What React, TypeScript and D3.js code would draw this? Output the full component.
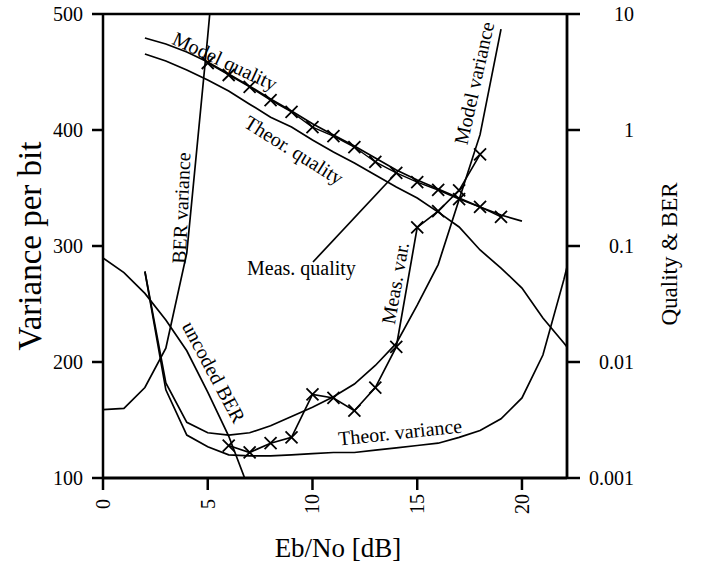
import React from 'react';
import * as d3 from 'd3';

// axis ticks
const xTicks = [0, 5, 10, 15, 20];
const varTicks = [100, 200, 300, 400, 500];
const qualTicks = [0.001, 0.01, 0.1, 1, 10];
const qualTickLabels = ['0.001', '0.01', '0.1', '1', '10'];

// right axis (quality & BER, log)
const modelQualityX = [2, 3, 4, 5, 6, 7, 8, 9, 10, 11, 12, 13, 14, 15, 16, 17, 18, 19, 20];
const modelQuality = [6.21, 5.51, 4.7, 3.86, 3.04, 2.39, 1.85, 1.46, 1.13, 0.905, 0.728, 0.574, 0.452, 0.371, 0.31, 0.259, 0.217, 0.185, 0.164];

const measQualityX = [5, 6, 7, 8, 9, 10, 11, 12, 13, 14, 15, 16, 17, 18, 19];
const measQuality = [3.78, 2.98, 2.35, 1.81, 1.43, 1.06, 0.887, 0.713, 0.53, 0.426, 0.356, 0.304, 0.254, 0.217, 0.178];

const theorQualityX = [2, 3, 4, 5, 6, 7, 8, 9, 10, 11, 12, 13, 14, 15, 16, 17, 18, 19, 20, 21, 22, 22.15];
const theorQuality = [4.52, 3.94, 3.29, 2.7, 2.17, 1.67, 1.29, 1.06, 0.82, 0.646, 0.52, 0.409, 0.323, 0.259, 0.196, 0.146, 0.0924, 0.0646, 0.0434, 0.0239, 0.0146, 0.0135];

const uncodedBerX = [0, 1, 2, 3, 4, 5, 6, 7];
const uncodedBer = [0.079, 0.059, 0.039, 0.023, 0.0125, 0.0055, 0.0023, 0.00077];

// left axis (variance per bit)
const berVarX = [0, 1, 2, 3, 4, 5, 6];
const berVar = [159, 160, 178, 212, 294, 481, 680];

const theorVarX = [2, 3, 4, 5, 6, 7, 8, 9, 10, 11, 12, 13, 14, 15, 16, 17, 18, 19, 20, 21, 22, 22.15];
const theorVar = [278, 176, 137, 127, 120, 119, 119, 120, 121, 122, 122, 124, 126, 128, 130, 135, 141, 151, 169, 206, 271, 282];

const modelVarX = [2, 3, 4, 5, 6, 7, 8, 9, 10, 11, 12, 13, 14, 15, 16, 17, 18, 19];
const modelVar = [278, 182, 148, 139, 137, 139, 145, 153, 161, 170, 181, 197, 216, 249, 284, 340, 396, 487];

const measVarX = [6, 7, 8, 9, 10, 11, 12, 13, 14, 15, 16, 17, 18];
const measVar = [128, 122, 130, 135, 172, 169, 158, 178, 213, 316, 330, 348, 379];

const W = 708;
const H = 565;
const left = 103, right = 567, top = 14, bottom = 478;
const font = '"Liberation Serif", "Times New Roman", serif';

const App = () => {
  const x = d3.scaleLinear().domain([0, 22.15]).range([left, right]);
  const yVar = d3.scaleLinear().domain([100, 500]).range([bottom, top]);
  const yQ = d3.scaleLog().domain([0.001, 10]).range([bottom, top]);

  const lineVar = (xs, ys) =>
    d3.line().x((d) => x(d[0])).y((d) => yVar(d[1]))(xs.map((v, i) => [v, ys[i]]));
  const lineQ = (xs, ys) =>
    d3.line().x((d) => x(d[0])).y((d) => yQ(d[1]))(xs.map((v, i) => [v, ys[i]]));

  const cross = 'M-6,-6L6,6M-6,6L6,-6';
  const curve = { fill: 'none', stroke: '#000', strokeWidth: 1.7 };

  // pointer from "Meas. quality" label to the measured point at 14 dB
  const mqIdx = measQualityX.indexOf(14);
  const labelX = 247, labelY = 275;

  return (
    <svg width={W} height={H} style={{ position: 'absolute', left: 0, top: 0, background: '#fff' }}
      fontFamily={font}>
      <defs>
        <clipPath id="plot">
          <rect x={left} y={top} width={right - left} height={bottom - top} />
        </clipPath>
      </defs>

      <g clipPath="url(#plot)">
        <path d={lineQ(modelQualityX, modelQuality)} {...curve} />
        <path d={lineQ(measQualityX, measQuality)} {...curve} strokeWidth={1.4} />
        <path d={lineQ(theorQualityX, theorQuality)} {...curve} />
        <path d={lineQ(uncodedBerX, uncodedBer)} {...curve} />
        <path d={lineVar(berVarX, berVar)} {...curve} />
        <path d={lineVar(theorVarX, theorVar)} {...curve} />
        <path d={lineVar(modelVarX, modelVar)} {...curve} />
        <path d={lineVar(measVarX, measVar)} {...curve} />
        {measQualityX.map((v, i) => (
          <path key={'mq' + i} d={cross} transform={`translate(${x(v)},${yQ(measQuality[i])})`}
            stroke="#000" strokeWidth={1.8} fill="none" />
        ))}
        {measVarX.map((v, i) => (
          <path key={'mv' + i} d={cross} transform={`translate(${x(v)},${yVar(measVar[i])})`}
            stroke="#000" strokeWidth={1.8} fill="none" />
        ))}
        <line x1={labelX + 66} y1={labelY - 13} x2={x(14)} y2={yQ(measQuality[mqIdx])}
          stroke="#000" strokeWidth={1.7} />
      </g>

      {/* frame */}
      <line x1={left} y1={top} x2={right} y2={top} stroke="#000" strokeWidth={2.5} />
      <line x1={left} y1={top - 1} x2={left} y2={bottom + 1} stroke="#000" strokeWidth={2.5} />
      <line x1={right} y1={top - 1} x2={right} y2={bottom + 1} stroke="#000" strokeWidth={2.8} />
      <line x1={left} y1={bottom} x2={right} y2={bottom} stroke="#000" strokeWidth={2.8} />

      {/* left axis */}
      {varTicks.map((t) => (
        <g key={'v' + t} transform={`translate(0,${yVar(t)})`}>
          <line x1={left - 11} x2={left} stroke="#000" strokeWidth={2.5} />
          <text x={83} dy="0.35em" textAnchor="end" fontSize={20}>{t}</text>
        </g>
      ))}

      {/* right axis */}
      {qualTicks.map((t, i) => (
        <g key={'q' + t} transform={`translate(0,${yQ(t)})`}>
          <line x1={right} x2={right + 13} stroke="#000" strokeWidth={2.5} />
          <text x={634} dy="0.35em" textAnchor="end" fontSize={20}>{qualTickLabels[i]}</text>
        </g>
      ))}

      {/* bottom axis */}
      {xTicks.map((t) => (
        <g key={'x' + t} transform={`translate(${x(t)},0)`}>
          <line y1={bottom} y2={bottom + 12} stroke="#000" strokeWidth={2.5} />
          <text transform={`translate(0,504) rotate(-90)`} dy="0.35em" textAnchor="middle" fontSize={20}>{t}</text>
        </g>
      ))}

      {/* axis titles */}
      <text x={338} y={557} textAnchor="middle" fontSize={27}>Eb/No [dB]</text>
      <text transform="translate(41,246) rotate(-90)" textAnchor="middle" fontSize={33}>Variance per bit</text>
      <text transform="translate(677,254) rotate(-90)" textAnchor="middle" fontSize={23}>Quality &amp; BER</text>

      {/* curve labels */}
      <text transform="translate(225,61) rotate(25)" textAnchor="middle" dy="0.35em" fontSize={20}>Model quality</text>
      <text transform="translate(294,150) rotate(32)" textAnchor="middle" dy="0.35em" fontSize={20}>Theor. quality</text>
      <text transform="translate(181,208) rotate(-87.5)" textAnchor="middle" dy="0.35em" fontSize={20}>BER variance</text>
      <text transform="translate(214,372) rotate(62)" textAnchor="middle" dy="0.35em" fontSize={20}>uncoded BER</text>
      <text x={labelX} y={labelY} fontSize={20}>Meas. quality</text>
      <text transform="translate(395,283) rotate(-80)" textAnchor="middle" dy="0.35em" fontSize={20}>Meas. var.</text>
      <text transform="translate(474,83) rotate(-77.5)" textAnchor="middle" dy="0.35em" fontSize={20}>Model variance</text>
      <text transform="translate(400,432) rotate(-6)" textAnchor="middle" dy="0.35em" fontSize={20}>Theor. variance</text>
    </svg>
  );
};

export default App;
